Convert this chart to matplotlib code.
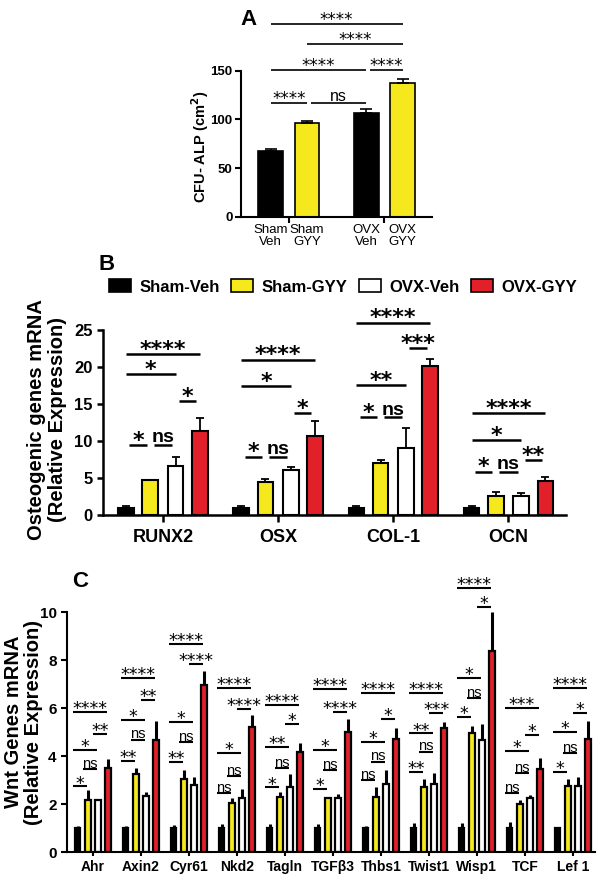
import matplotlib
matplotlib.use('Agg')
import matplotlib.pyplot as plt
from matplotlib.patches import Patch
import numpy as np

plt.rcParams['font.family'] = ['Liberation Sans', 'DejaVu Sans']

# ---- data ----
# panel A: CFU-ALP
a_labels = ['Sham\nVeh', 'Sham\nGYY', 'OVX\nVeh', 'OVX\nGYY']
a_vals = [68, 96, 107, 137]
a_err = [2, 2, 4, 4.5]
# (bar i, bar j, height, label)
a_sig = [(0, 1, 116.8, '****'), (1, 2, 116.8, 'ns'), (0, 2, 150.7, '****'),
         (2, 3, 150.7, '****'), (1, 3, 177.5, '****'), (0, 3, 198, '****')]

# panel B: osteogenic genes
groups = ['Sham-Veh', 'Sham-GYY', 'OVX-Veh', 'OVX-GYY']
b_genes = ['RUNX2', 'OSX', 'COL-1', 'OCN']
b_sham_veh = [1.0, 1.0, 1.0, 1.0]
b_sham_gyy = [4.7, 4.4, 6.97, 2.56]
b_ovx_veh = [6.55, 6.07, 9.08, 2.56]
b_ovx_gyy = [11.4, 10.65, 20.1, 4.63]
b_sham_veh_err = [0.2, 0.2, 0.2, 0.2]
b_sham_gyy_err = [0.08, 0.45, 0.5, 0.5]
b_ovx_veh_err = [1.3, 0.35, 2.7, 0.45]
b_ovx_gyy_err = [1.7, 2.0, 1.0, 0.45]
b_sig = [
    [(0, 1, 9.45, '*'), (1, 2, 9.45, 'ns'), (2, 3, 15.4, '*'), (0, 2, 19.0, '*'), (0, 3, 21.7, '****')],
    [(0, 1, 7.87, '*'), (1, 2, 7.87, 'ns'), (2, 3, 13.8, '*'), (0, 2, 17.4, '*'), (0, 3, 21.0, '****')],
    [(0, 1, 13.2, '*'), (1, 2, 13.2, 'ns'), (2, 3, 22.5, '***'), (0, 2, 17.5, '**'), (0, 3, 26.0, '****')],
    [(0, 1, 5.84, '*'), (1, 2, 5.84, 'ns'), (2, 3, 7.4, '**'), (0, 2, 10.1, '*'), (0, 3, 13.8, '****')],
]

# panel C: Wnt genes
c_genes = ['Ahr', 'Axin2', 'Cyr61', 'Nkd2', 'Tagln', 'TGF\u03b23', 'Thbs1', 'Twist1', 'Wisp1', 'TCF', 'Lef 1']
c_sham_veh = [1.0, 1.0, 1.0, 1.0, 1.0, 1.0, 1.0, 1.0, 1.0, 1.0, 1.0]
c_sham_gyy = [2.18, 3.26, 3.06, 2.03, 2.28, 2.26, 2.31, 2.72, 4.97, 1.99, 2.75]
c_ovx_veh = [2.15, 2.35, 2.80, 2.24, 2.72, 2.25, 2.82, 2.82, 4.67, 2.24, 2.75]
c_ovx_gyy = [3.51, 4.67, 6.94, 5.22, 4.18, 5.01, 4.69, 5.18, 8.38, 3.44, 4.69]
c_sham_veh_err = [0.08, 0.08, 0.12, 0.15, 0.15, 0.15, 0.08, 0.22, 0.22, 0.25, 0.03]
c_sham_gyy_err = [0.40, 0.22, 0.34, 0.21, 0.23, 0.04, 0.38, 0.31, 0.28, 0.16, 0.28]
c_ovx_veh_err = [0.03, 0.16, 0.32, 0.38, 0.52, 0.15, 0.60, 0.49, 0.65, 0.14, 0.36]
c_ovx_gyy_err = [0.36, 0.80, 0.60, 0.47, 0.35, 0.53, 0.48, 0.22, 1.60, 0.46, 0.78]
# heights for 1v2, 2v3, 1v3, 3v4, 1v4
c_sig_y = [
    [2.73, 3.46, 4.25, 4.90, 5.82],
    [3.78, 4.68, 5.51, 6.32, 7.25],
    [3.74, 4.58, 5.42, 7.82, 8.68],
    [2.45, 3.17, 4.13, 5.95, 6.84],
    [2.69, 3.49, 4.39, 5.32, 6.13],
    [2.61, 3.42, 4.25, 5.83, 6.79],
    [3.00, 3.76, 4.60, 5.54, 6.64],
    [3.32, 4.18, 4.94, 5.81, 6.64],
    [5.61, 6.40, 7.26, 10.22, 11.0],
    [2.44, 3.28, 4.21, 4.88, 5.99],
    [3.32, 4.11, 4.99, 5.81, 6.85],
]
c_sig_lab = [
    ['*', 'ns', '*', '**', '****'],
    ['**', 'ns', '*', '**', '****'],
    ['**', 'ns', '*', '****', '****'],
    ['ns', 'ns', '*', '****', '****'],
    ['*', 'ns', '**', '*', '****'],
    ['*', 'ns', '*', '****', '****'],
    ['ns', 'ns', '*', '*', '****'],
    ['**', 'ns', '**', '***', '****'],
    ['*', 'ns', '*', '*', '****'],
    ['ns', 'ns', '*', '*', '***'],
    ['*', 'ns', '*', '*', '****'],
]
c_pairs = [(0, 1), (1, 2), (0, 2), (2, 3), (0, 3)]

colors = ['black', '#f5e81c', 'white', '#e2202a']


def sig(ax, x1, x2, y, label, lw, star_fs, ns_fs, weight, gap):
    ax.plot([x1, x2], [y, y], color='k', lw=lw, clip_on=False, solid_capstyle='butt')
    xm = (x1 + x2) / 2
    if label == 'ns':
        ax.annotate(label, (xm, y), xytext=(0, gap), textcoords='offset points',
                    ha='center', va='baseline', fontsize=ns_fs, fontweight=weight,
                    annotation_clip=False)
    else:
        ax.annotate(label, (xm, y), xytext=(0, gap - 0.2 * star_fs), textcoords='offset points',
                    ha='center', va='baseline', fontsize=star_fs, fontweight=weight,
                    family='DejaVu Sans', annotation_clip=False)


fig = plt.figure(figsize=(6.04, 8.83), dpi=100)

# ---------------- panel A ----------------
axA = fig.add_axes([0.399, 0.7546, 0.316, 0.1653])
ax_pos = np.array([0, 1, 2.62, 3.62])
axA.bar(ax_pos, a_vals, width=0.68, color=['black', colors[1], 'black', colors[1]],
        edgecolor='k', lw=1.2, yerr=[np.zeros(4), a_err], capsize=4,
        error_kw=dict(lw=1.2, capthick=1.2), zorder=2)
axA.set_xlim(-0.81, 4.42)
axA.set_ylim(0, 150)
axA.set_yticks([0, 50, 100, 150])
axA.set_xticks(ax_pos)
axA.set_xticklabels(a_labels, fontsize=9.5, linespacing=1.0)
axA.set_xticks([0.5, 3.1], minor=True)
axA.tick_params(axis='x', which='major', length=0, pad=5)
axA.tick_params(axis='x', which='minor', length=4, width=1.5)
axA.tick_params(axis='y', length=4, width=1.5, labelsize=9.5, pad=2)
for t in axA.get_yticklabels():
    t.set_fontweight('bold')
for s in ['top', 'right']:
    axA.spines[s].set_visible(False)
for s in ['left', 'bottom']:
    axA.spines[s].set_linewidth(1.5)
for i, j, y, lab in a_sig:
    x1 = ax_pos[i] + (0.1 if (j - i == 1 and i > 0) else 0)
    sig(axA, x1, ax_pos[j], y, lab, 1.2, 12, 11.5, 'normal', 1.5)
fig.text(0.331, 0.8335, 'CFU- ALP (cm$^\\mathbf{2}$)', rotation=90, ha='center', va='center',
         fontsize=10.5, fontweight='bold')
fig.text(0.4106, 0.9774, 'A', ha='center', va='center', fontsize=16, fontweight='bold')

# ---------------- panel B ----------------
axB = fig.add_axes([0.1705, 0.4168, 0.7666, 0.2095])
b_off = [-0.32, -0.11, 0.11, 0.32]
b_series = [b_sham_veh, b_sham_gyy, b_ovx_veh, b_ovx_gyy]
b_errs = [b_sham_veh_err, b_sham_gyy_err, b_ovx_veh_err, b_ovx_gyy_err]
xb = np.arange(len(b_genes))
for k in range(4):
    axB.bar(xb + b_off[k], b_series[k], width=0.135, color=colors[k], edgecolor='k', lw=1.5,
            yerr=[np.zeros(4), b_errs[k]], capsize=3,
            error_kw=dict(lw=1.3, capthick=1.3), zorder=2)
axB.set_xlim(-0.52, 3.50)
axB.set_ylim(0, 25)
axB.set_yticks([0, 5, 10, 15, 20, 25])
axB.set_xticks(xb)
axB.set_xticklabels(b_genes, fontsize=13, fontweight='bold')
axB.tick_params(axis='x', length=5, width=1.8, pad=5)
axB.tick_params(axis='y', length=4, width=1.8, labelsize=12)
for t in axB.get_yticklabels():
    t.set_fontweight('bold')
for s in ['top', 'right']:
    axB.spines[s].set_visible(False)
for s in ['left', 'bottom']:
    axB.spines[s].set_linewidth(1.8)
for g, lst in enumerate(b_sig):
    for i, j, y, lab in lst:
        x1 = g + b_off[i]
        x2 = g + b_off[j]
        if j - i == 1:
            x1 += 0.03
            x2 -= 0.03
        sig(axB, x1, x2, y, lab, 1.8, 16, 14, 'bold', 2)
fig.text(0.0778, 0.5244, 'Osteogenic genes mRNA\n(Relative Expression)', rotation=90,
         ha='center', va='center', fontsize=14.5, fontweight='bold', linespacing=1.1)
fig.text(0.177, 0.701, 'B', ha='center', va='center', fontsize=16, fontweight='bold')
handles = [Patch(facecolor=colors[k], edgecolor='k', lw=1.2) for k in range(4)]
fig.legend(handles, groups, loc='center', bbox_to_anchor=(0.568, 0.675), ncol=4, frameon=False,
           prop=dict(weight='bold', size=12), handlelength=1.3, handleheight=0.8,
           handletextpad=0.5, columnspacing=0.7)

# ---------------- panel C ----------------
axC = fig.add_axes([0.1109, 0.0351, 0.8742, 0.2718])
c_off = [-0.32, -0.105, 0.105, 0.32]
c_series = [c_sham_veh, c_sham_gyy, c_ovx_veh, c_ovx_gyy]
c_errs = [c_sham_veh_err, c_sham_gyy_err, c_ovx_veh_err, c_ovx_gyy_err]
xc = np.arange(len(c_genes))
for k in range(4):
    axC.errorbar(xc + c_off[k], c_series[k], yerr=[np.zeros(len(xc)), c_errs[k]], fmt='none',
                 ecolor='k', elinewidth=2.2, capsize=0, zorder=1)
    axC.bar(xc + c_off[k], c_series[k], width=0.12, color=colors[k], edgecolor='k', lw=1.6, zorder=2)
axC.set_xlim(-0.54, 10.46)
axC.set_ylim(0, 10)
axC.set_yticks([0, 2, 4, 6, 8, 10])
axC.set_xticks(xc)
axC.set_xticklabels(c_genes, fontsize=10, fontweight='bold')
axC.tick_params(axis='x', length=3, width=1.5, pad=3)
axC.tick_params(axis='y', length=4, width=1.5, labelsize=11)
for t in axC.get_yticklabels():
    t.set_fontweight('bold')
for s in ['top', 'right']:
    axC.spines[s].set_visible(False)
for s in ['left', 'bottom']:
    axC.spines[s].set_linewidth(1.5)
for g in range(len(c_genes)):
    for (i, j), y, lab in zip(c_pairs, c_sig_y[g], c_sig_lab[g]):
        x1 = g + c_off[i] - 0.1
        x2 = g + c_off[j] - 0.02
        sig(axC, x1, x2, y, lab, 1.5, 12.5, 10.5, 'normal', 1.0)
fig.text(0.039, 0.1823, 'Wnt Genes mRNA\n(Relative Expression)', rotation=90,
         ha='center', va='center', fontsize=14.5, fontweight='bold', linespacing=1.1)
fig.text(0.1325, 0.342, 'C', ha='center', va='center', fontsize=16, fontweight='bold')

fig.savefig('out.png', dpi=100)
